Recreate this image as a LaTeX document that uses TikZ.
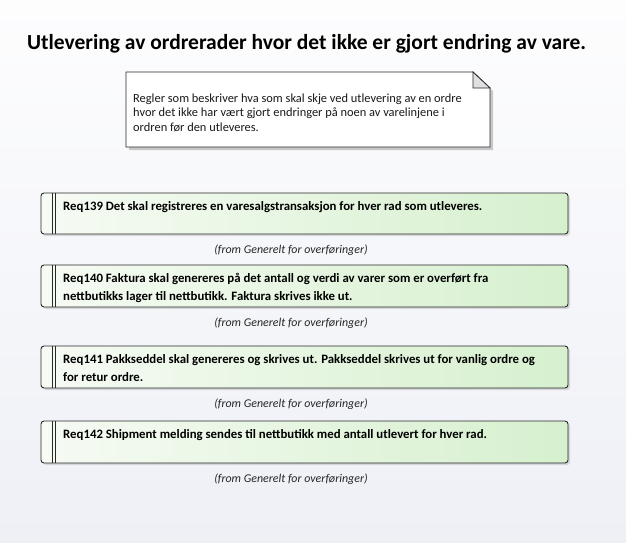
\documentclass[tikz,border=0pt]{standalone}
\usepackage{fontspec}
\setmainfont{Carlito}
\usetikzlibrary{shadows}
\definecolor{bgtop}{RGB}{253,253,254}
\definecolor{bgbot}{RGB}{238,240,246}
\definecolor{reqL}{RGB}{246,251,244}
\definecolor{reqR}{RGB}{214,240,206}
\definecolor{edge}{RGB}{40,40,40}
\tikzset{
  reqbox/.style={draw=edge, line width=0.9pt, rounded corners=3pt, left color=reqL, right color=reqR,
    drop shadow={shadow xshift=2pt, shadow yshift=-2pt, opacity=0.25}},
  reqtext/.style={anchor=north west, align=left, font=\fontsize{12.8}{18}\selectfont\bfseries, inner sep=0pt},
  fromtext/.style={anchor=base, font=\fontsize{11.9}{13}\selectfont\itshape, text=black!85, inner sep=0pt},
  notetext/.style={anchor=north west, align=left, font=\fontsize{12.4}{14.5}\selectfont, inner sep=0pt, text=black!90}
}
\begin{document}
\begin{tikzpicture}[x=1pt,y=-1pt]
\useasboundingbox (0,0) rectangle (626,543);
\shade[top color=bgtop, bottom color=bgbot] (0,0) rectangle (626,543);
\node[anchor=base west, font=\fontsize{21.5}{24}\selectfont\bfseries, inner sep=0pt] (title) at (27,49) {Utlevering av ordrerader hvor det ikke er gjort endring av vare.};
% note
\fill[black, opacity=0.2] (129,75) -- (475,75) -- (493,91) -- (493,150) -- (129,150) -- cycle;
\draw[edge, fill=white, line width=0.8pt] (126,72) -- (473,72) -- (490,88) -- (490,147) -- (126,147) -- cycle;
\draw[edge, fill=black!12, line width=0.8pt] (473,72) -- (473,88) -- (490,88) -- cycle;
\node[notetext] (note) at (133,93.5) {Regler som beskriver hva som skal skje ved utlevering av en ordre\\hvor det ikke har vært gjort endringer på noen av varelinjene i\\ordren før den utleveres.};
% requirements
\foreach \name/\ya/\yb/\txt [count=\i] in {
  r139/193/234/{Req139 Det skal registreres en varesalgstransaksjon for hver rad som utleveres.},
  r140/265/307/{Req140 Faktura skal genereres på det antall og verdi av varer som er overført fra\\nettbutikks lager til nettbutikk. Faktura skrives ikke ut.},
  r141/346/388/{Req141 Pakkseddel skal genereres og skrives ut. Pakkseddel skrives ut for vanlig ordre og\\for retur ordre.},
  r142/421/463/{Req142 Shipment melding sendes til nettbutikk med antall utlevert for hver rad.}} {
  \draw[reqbox] (41,\ya) rectangle (568,\yb);
  \draw[edge, line width=0.9pt] (52,\ya) -- (52,\yb);
  \draw[edge, line width=0.9pt] (55,\ya) -- (55,\yb);
  \node[reqtext] (\name) at (63,\ya+8.5) {\txt};
  \node[fromtext] (\name from) at (291,\yb+19) {(from Generelt for overføringer)};
}
\end{tikzpicture}
\end{document}
